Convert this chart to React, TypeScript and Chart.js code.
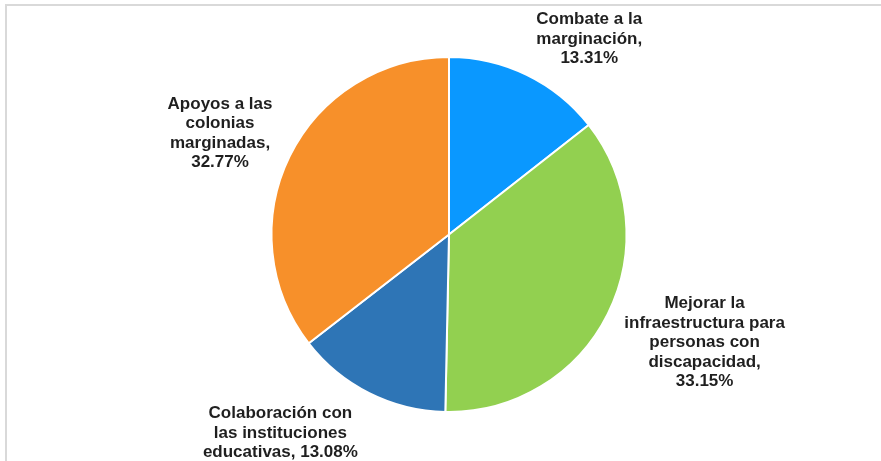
import React, { useEffect, useRef } from "react";
import { Chart, registerables } from "chart.js";

Chart.register(...registerables);

const categories = [
  ["Combate a la", "marginación,"],
  ["Mejorar la", "infraestructura para", "personas con", "discapacidad,"],
  ["Colaboración con", "las instituciones", "educativas,"],
  ["Apoyos a las", "colonias", "marginadas,"],
];
const values = [13.31, 33.15, 13.08, 32.77];
const colors = ["#0A98FF", "#92D050", "#2E75B6", "#F7902A"];

// label placement relative to pie center, in units of outer radius (style only)
const labelPlacement = [
  [0.79, -1.10],
  [1.44, 0.61],
  [-0.95, 1.12],
  [-1.29, -0.57],
];

const labelPlugin = {
  id: "outerLabels",
  afterDatasetsDraw(chart: any) {
    const ctx = chart.ctx;
    const meta = chart.getDatasetMeta(0);
    ctx.save();
    ctx.font = "bold 17px 'Liberation Sans', Arial, sans-serif";
    ctx.fillStyle = "#1f1f1f";
    ctx.textAlign = "center";
    ctx.textBaseline = "middle";
    const lineH = 19.5;
    meta.data.forEach((arc: any, i: number) => {
      const { x, y, outerRadius } = arc.getProps(["x", "y", "outerRadius"], true);
      const lines = [...categories[i]];
      const pct = values[i].toFixed(2) + "%";
      if (i === 2) lines[lines.length - 1] = lines[lines.length - 1] + " " + pct;
      else lines.push(pct);
      const cx = x + labelPlacement[i][0] * outerRadius;
      const cy = y + labelPlacement[i][1] * outerRadius;
      const startY = cy - ((lines.length - 1) * lineH) / 2;
      lines.forEach((t, k) => ctx.fillText(t, cx, startY + k * lineH));
    });
    ctx.restore();
  },
};

export default function App() {
  const ref = useRef<HTMLCanvasElement>(null);
  useEffect(() => {
    document.body.style.margin = "0";
    const chart = new Chart(ref.current!, {
      type: "pie",
      data: {
        labels: categories.map((c) => c.join(" ")),
        datasets: [
          {
            data: values,
            backgroundColor: colors,
            borderColor: "#ffffff",
            borderWidth: 2,
          },
        ],
      },
      options: {
        animation: false,
        responsive: false,
        maintainAspectRatio: false,
        layout: { padding: { left: 17, right: 0, top: 56, bottom: 48 } },
        plugins: { legend: { display: false }, tooltip: { enabled: false } },
      },
      plugins: [labelPlugin],
    });
    return () => chart.destroy();
  }, []);
  return (
    <div style={{ position: "relative", width: 881, height: 461, background: "#fff" }}>
      <div
        style={{
          position: "absolute",
          left: 5,
          top: 4,
          right: 0,
          bottom: 0,
          borderTop: "2px solid #D9D9D9",
          borderLeft: "2px solid #D9D9D9",
        }}
      />
      <canvas ref={ref} width={881} height={461} style={{ position: "absolute", left: 0, top: 0 }} />
    </div>
  );
}
